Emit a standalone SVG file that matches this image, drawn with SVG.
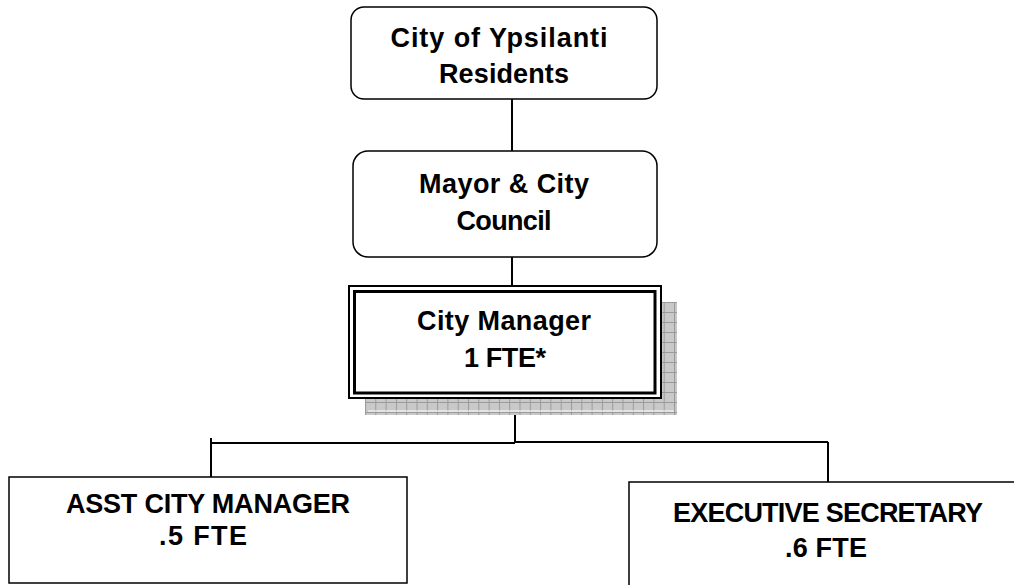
<svg xmlns="http://www.w3.org/2000/svg" width="1014" height="585" viewBox="0 0 1014 585">
<defs>
<pattern id="grid" x="365" y="302" width="10.3" height="10" patternUnits="userSpaceOnUse">
<rect width="10.3" height="10" fill="#c9c9c9"/>
<path d="M0 0.5H10.3M0.5 0V10" stroke="#9a9a9a" stroke-width="1" fill="none"/>
</pattern>
<style>
.box{fill:#fff;stroke:#000;stroke-width:1.5}
.t{font-family:"Liberation Sans",Arial,sans-serif;font-weight:bold;font-size:27px;fill:#000;text-anchor:middle}
.c{stroke:#000;stroke-width:2;fill:none}
</style>
</defs>
<rect width="1014" height="585" fill="#fff"/>
<g id="connectors">
<path class="c" d="M512 99V151"/>
<path class="c" d="M512 257V286"/>
<path class="c" d="M515 398V443"/>
<path class="c" d="M211 443H515"/>
<path class="c" d="M515 442H828"/>
<path class="c" d="M211 438V477"/>
<path class="c" d="M828 442V482"/>
</g>
<g id="residents">
<rect class="box" x="351" y="7" width="306" height="92" rx="13"/>
<text class="t" x="499" y="47" textLength="217" lengthAdjust="spacing">City of Ypsilanti</text>
<text class="t" x="504" y="83" textLength="130" lengthAdjust="spacing">Residents</text>
</g>
<g id="council">
<rect class="box" x="353" y="151" width="304" height="106" rx="15"/>
<text class="t" x="504" y="193" textLength="170" lengthAdjust="spacing">Mayor &amp; City</text>
<text class="t" x="504" y="230" textLength="95" lengthAdjust="spacing">Council</text>
</g>
<g id="city-manager">
<rect x="365" y="302" width="312" height="113" fill="url(#grid)"/>
<path d="M368 411H674" stroke="#fff" stroke-width="1.2"/>
<rect x="349" y="286" width="312" height="112" fill="#fff" stroke="#000" stroke-width="2"/>
<rect x="354.5" y="291.5" width="300.5" height="101.5" fill="none" stroke="#000" stroke-width="3"/>
<text class="t" x="504" y="330" textLength="174" lengthAdjust="spacing">City Manager</text>
<text class="t" x="505" y="367" textLength="82" lengthAdjust="spacing">1 FTE*</text>
</g>
<g id="asst-city-manager">
<rect class="box" x="9" y="477" width="398" height="106"/>
<text class="t" x="208" y="513" textLength="284" lengthAdjust="spacing">ASST CITY MANAGER</text>
<text class="t" x="203" y="545" textLength="88" lengthAdjust="spacing">.5 FTE</text>
</g>
<g id="executive-secretary">
<rect class="box" x="629" y="482" width="400" height="120"/>
<text class="t" x="828" y="522" textLength="310" lengthAdjust="spacing">EXECUTIVE SECRETARY</text>
<text class="t" x="826" y="557" textLength="82" lengthAdjust="spacing">.6 FTE</text>
</g>
</svg>
